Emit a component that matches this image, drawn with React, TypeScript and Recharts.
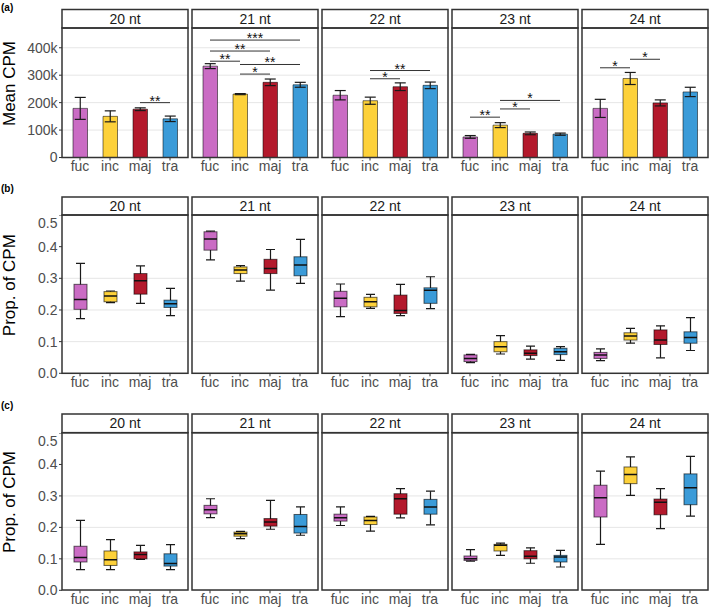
import React from 'react';
import { ComposedChart, Bar, Cell, ErrorBar, XAxis, YAxis, CartesianGrid, ReferenceLine } from 'recharts';

const categories = ['fuc', 'inc', 'maj', 'tra'];
const facets = ['20 nt', '21 nt', '22 nt', '23 nt', '24 nt'];
const colors = ['#CA6CC4', '#FDD13A', '#B3192C', '#3B9BD8'];

// (a) mean CPM and its error, per facet, per category
const meanCpm = [
  [179000, 150000, 176000, 141000],
  [333000, 231000, 274000, 265000],
  [227000, 207000, 258000, 263000],
  [75000, 118000, 88000, 85000],
  [179000, 288000, 199000, 239000],
];
const meanCpmErr = [
  [40000, 20000, 5000, 10000],
  [9000, 2000, 12000, 9000],
  [17000, 13000, 14000, 12000],
  [5000, 9000, 5000, 4000],
  [33000, 22000, 11000, 17000],
];
const cpmTicks = [0, 100000, 200000, 300000, 400000];
const cpmMax = 472000;

// significance brackets: [from, to, height, stars]
type Sig = [string, string, number, string];
const sigBrackets: Sig[][] = [
  [['maj', 'tra', 200000, '**']],
  [
    ['fuc', 'tra', 428000, '***'],
    ['fuc', 'maj', 388000, '**'],
    ['fuc', 'inc', 351000, '**'],
    ['inc', 'tra', 339000, '**'],
    ['inc', 'maj', 304000, '*'],
  ],
  [
    ['inc', 'tra', 317000, '**'],
    ['inc', 'maj', 287000, '*'],
  ],
  [
    ['fuc', 'inc', 147000, '**'],
    ['inc', 'maj', 177000, '*'],
    ['inc', 'tra', 208000, '*'],
  ],
  [
    ['fuc', 'inc', 327000, '*'],
    ['inc', 'maj', 358000, '*'],
  ],
];

// (b) and (c) box stats: [whiskerLow, q1, median, q3, whiskerHigh]
const propB = [
  [[0.173, 0.202, 0.233, 0.281, 0.347], [0.223, 0.226, 0.244, 0.258, 0.26], [0.221, 0.25, 0.292, 0.315, 0.339], [0.182, 0.208, 0.22, 0.231, 0.268]],
  [[0.358, 0.389, 0.424, 0.447, 0.449], [0.291, 0.315, 0.326, 0.336, 0.34], [0.263, 0.315, 0.331, 0.36, 0.391], [0.284, 0.308, 0.342, 0.368, 0.423]],
  [[0.179, 0.21, 0.237, 0.259, 0.282], [0.205, 0.21, 0.226, 0.24, 0.249], [0.182, 0.189, 0.198, 0.247, 0.281], [0.204, 0.221, 0.262, 0.27, 0.305]],
  [[0.034, 0.037, 0.047, 0.058, 0.06], [0.061, 0.068, 0.084, 0.1, 0.119], [0.045, 0.056, 0.063, 0.074, 0.086], [0.041, 0.059, 0.068, 0.079, 0.084]],
  [[0.04, 0.047, 0.058, 0.066, 0.077], [0.095, 0.105, 0.118, 0.128, 0.142], [0.049, 0.091, 0.105, 0.137, 0.15], [0.072, 0.095, 0.113, 0.131, 0.176]],
];
const propC = [
  [[0.066, 0.09, 0.104, 0.14, 0.222], [0.066, 0.079, 0.097, 0.125, 0.161], [0.098, 0.1, 0.114, 0.122, 0.143], [0.066, 0.077, 0.085, 0.116, 0.145]],
  [[0.231, 0.243, 0.256, 0.27, 0.291], [0.164, 0.172, 0.18, 0.185, 0.187], [0.194, 0.204, 0.217, 0.228, 0.286], [0.175, 0.182, 0.203, 0.241, 0.265]],
  [[0.206, 0.22, 0.231, 0.242, 0.265], [0.188, 0.209, 0.222, 0.233, 0.235], [0.23, 0.242, 0.291, 0.307, 0.323], [0.208, 0.242, 0.265, 0.289, 0.315]],
  [[0.093, 0.095, 0.1, 0.109, 0.129], [0.111, 0.125, 0.143, 0.146, 0.15], [0.086, 0.1, 0.108, 0.126, 0.135], [0.074, 0.09, 0.106, 0.111, 0.127]],
  [[0.146, 0.233, 0.294, 0.334, 0.379], [0.302, 0.339, 0.368, 0.392, 0.424], [0.196, 0.24, 0.28, 0.29, 0.323], [0.236, 0.272, 0.326, 0.37, 0.426]],
];
const propTicks = [0, 0.1, 0.2, 0.3, 0.4, 0.5];

const FONT = '"Liberation Sans", Arial, Helvetica, sans-serif';
const panelLeft = [62, 192, 322, 452, 582];
const PW = 126;
const YW = 40;
const XH = 22;
const rows = [
  { label: '(a)', labelY: 11, title: 'Mean CPM', stripTop: 9.5, plotTop: 28, plotBottom: 157.5 },
  { label: '(b)', labelY: 192, title: 'Prop. of CPM', stripTop: 197, plotTop: 215, plotBottom: 373.3 },
  { label: '(c)', labelY: 409, title: 'Prop. of CPM', stripTop: 414, plotTop: 432.7, plotBottom: 590 },
];

const tickStyle = { fill: '#4D4D4D', fontSize: 14, fontFamily: FONT };

const StarLabel = (props: any) => {
  const { viewBox, value } = props;
  if (!viewBox) return null;
  return (
    <text x={viewBox.x + viewBox.width / 2} y={viewBox.y + 3} textAnchor="middle" fontSize={14} fill="#111" fontFamily={FONT}>
      {value}
    </text>
  );
};

const BoxShape = (props: any) => {
  const { x, y, width, height, payload } = props;
  const [lo, q1, med, q3, hi] = payload.stats;
  const py = (v: number) => y + ((hi - v) / (hi - lo)) * height;
  const cx = x + width / 2;
  const cap = 4.5;
  const c = colors[payload.idx];
  return (
    <g>
      <line x1={cx} x2={cx} y1={py(hi)} y2={py(lo)} stroke="#1a1a1a" strokeWidth={1.2} />
      <line x1={cx - cap} x2={cx + cap} y1={py(hi)} y2={py(hi)} stroke="#1a1a1a" strokeWidth={1.2} />
      <line x1={cx - cap} x2={cx + cap} y1={py(lo)} y2={py(lo)} stroke="#1a1a1a" strokeWidth={1.2} />
      <rect x={x} y={py(q3)} width={width} height={py(q1) - py(q3)} fill={c} stroke="rgba(0,0,0,0.6)" strokeWidth={1} />
      <line x1={x} x2={x + width} y1={py(med)} y2={py(med)} stroke="#111" strokeWidth={1.5} />
    </g>
  );
};

function Panel({ rowIdx, idx }: { rowIdx: number; idx: number }) {
  const r = rows[rowIdx];
  const showY = idx === 0;
  const yW = showY ? YW : 0;
  const h = r.plotBottom - r.plotTop;
  const isBar = rowIdx === 0;
  const stats = rowIdx === 1 ? propB : propC;
  const data = categories.map((cat, i) =>
    isBar
      ? { cat, idx: i, mean: meanCpm[idx][i], err: meanCpmErr[idx][i] }
      : { cat, idx: i, stats: stats[idx][i], range: [stats[idx][i][0], stats[idx][i][4]] }
  );
  return (
    <div style={{ position: 'absolute', left: panelLeft[idx] - yW, top: r.plotTop }}>
      <ComposedChart width={PW + yW} height={h + XH} data={data} margin={{ top: 0, right: 0, bottom: 0, left: 0 }}>
        <CartesianGrid vertical={false} stroke="#E6E6E6" strokeWidth={1} />
        <XAxis
          dataKey="cat"
          type="category"
          padding={{ left: 3, right: 3 }}
          height={XH}
          tickSize={3}
          tickMargin={1}
          axisLine={false}
          tickLine={{ stroke: '#333' }}
          tick={tickStyle}
          interval={0}
        />
        <YAxis
          type="number"
          hide={!showY}
          width={YW}
          domain={isBar ? [0, cpmMax] : [0, 0.5]}
          ticks={isBar ? cpmTicks : propTicks}
          tickFormatter={(v: number) => (isBar ? (v === 0 ? '0' : `${v / 1000}k`) : v.toFixed(1))}
          tickSize={3}
          tickMargin={1.5}
          axisLine={false}
          tickLine={{ stroke: '#333' }}
          tick={tickStyle}
          allowDataOverflow
        />
        {isBar ? (
          <Bar dataKey="mean" barSize={14.5} isAnimationActive={false} stroke="rgba(0,0,0,0.65)" strokeWidth={0.8}>
            {data.map((d, i) => (
              <Cell key={i} fill={colors[i]} />
            ))}
            <ErrorBar dataKey="err" width={5.5} stroke="#1a1a1a" strokeWidth={1.2} direction="y" />
          </Bar>
        ) : (
          <Bar dataKey="range" barSize={13} isAnimationActive={false} shape={BoxShape} />
        )}
        {isBar &&
          sigBrackets[idx].map(([a, b, yv, s], k) => (
            <ReferenceLine
              key={k}
              segment={[{ x: a, y: yv }, { x: b, y: yv }]}
              stroke="#333"
              strokeWidth={1}
              label={<StarLabel value={s} />}
            />
          ))}
      </ComposedChart>
    </div>
  );
}

export default function App() {
  return (
    <div style={{ position: 'absolute', left: 0, top: 0, width: 709, height: 608, background: '#fff', fontFamily: FONT }}>
      {rows.map((r, ri) => facets.map((f, fi) => <Panel key={`${ri}-${fi}`} rowIdx={ri} idx={fi} />))}
      <svg width={709} height={608} style={{ position: 'absolute', left: 0, top: 0, pointerEvents: 'none' }}>
        {rows.map((r, ri) => (
          <g key={ri}>
            <text x={1} y={r.labelY} fontSize={10} fontWeight="bold" fill="#000" fontFamily={FONT}>
              {r.label}
            </text>
            <text
              x={9.5}
              y={(r.stripTop + r.plotBottom) / 2}
              dy="0.35em"
              textAnchor="middle"
              fontSize={17}
              fill="#000"
              fontFamily={FONT}
              transform={`rotate(-90, 9.5, ${(r.stripTop + r.plotBottom) / 2})`}
            >
              {r.title}
            </text>
            {facets.map((f, fi) => (
              <g key={fi}>
                <rect x={panelLeft[fi]} y={r.stripTop} width={PW} height={r.plotTop - r.stripTop} fill="#fff" stroke="#333" strokeWidth={1.5} />
                <text
                  x={panelLeft[fi] + PW / 2}
                  y={(r.stripTop + r.plotTop) / 2}
                  dy="0.36em"
                  textAnchor="middle"
                  fontSize={14}
                  fill="#1a1a1a"
                  fontFamily={FONT}
                >
                  {f}
                </text>
                <rect x={panelLeft[fi]} y={r.plotTop} width={PW} height={r.plotBottom - r.plotTop} fill="none" stroke="#333" strokeWidth={1.5} />
              </g>
            ))}
          </g>
        ))}
      </svg>
    </div>
  );
}
